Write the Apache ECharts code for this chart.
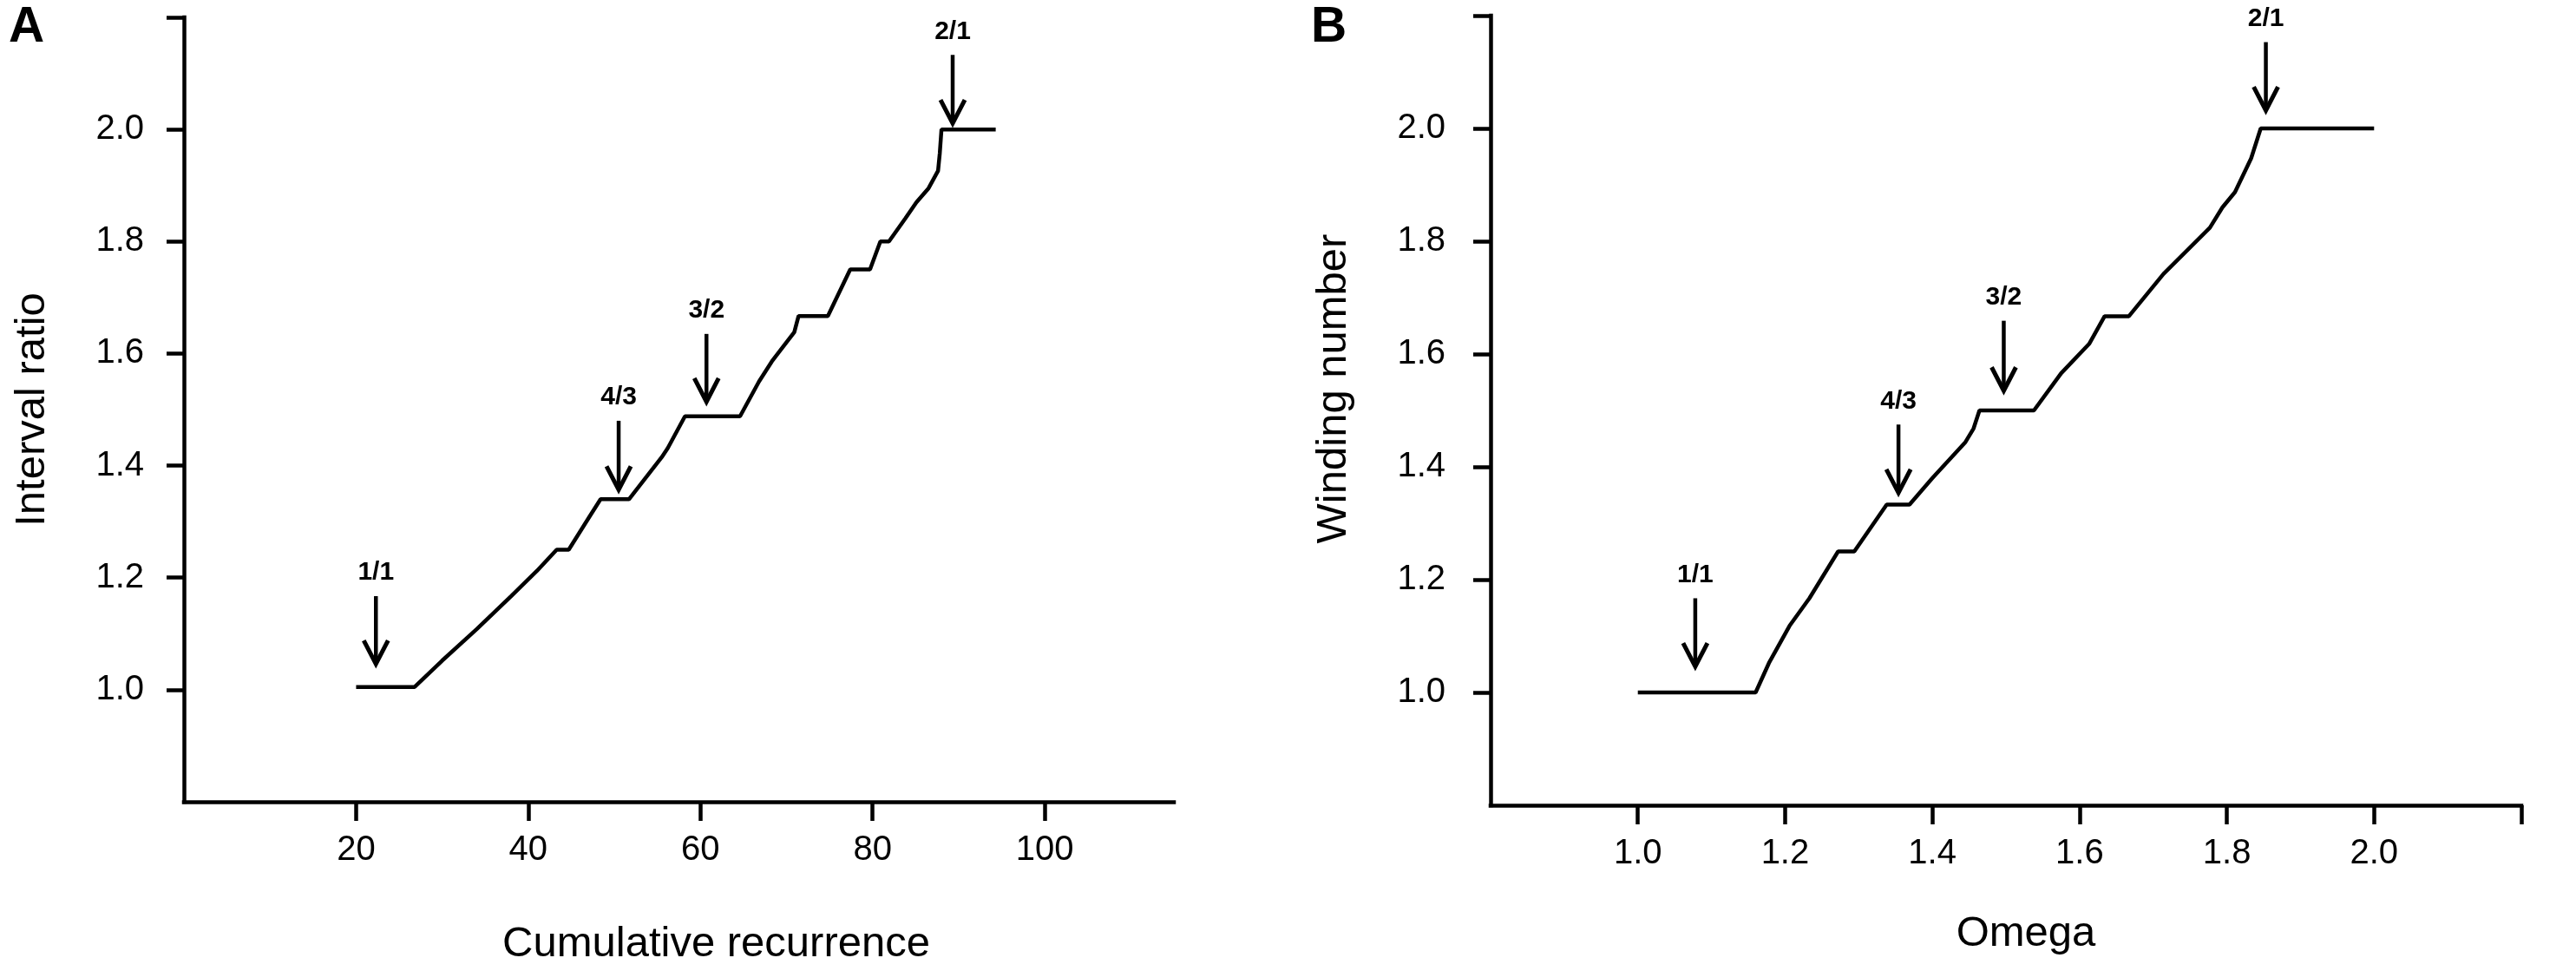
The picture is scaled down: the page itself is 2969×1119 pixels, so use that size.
<!DOCTYPE html>
<html>
<head>
<meta charset="utf-8">
<script src="https://cdn.jsdelivr.net/npm/echarts@6/dist/echarts.min.js"></script>
<style>
html,body{margin:0;padding:0;background:#fff;}
#chart{width:2969px;height:1119px;}
</style>
</head>
<body>
<div id="chart"></div>
<script>
// Panel A: interval ratio vs cumulative recurrence
const aX = [20, 26.8, 30, 34, 38, 41, 43.3, 44.7, 47.2, 48.4, 51.7, 55.5, 56.2, 58.2, 64.6, 66.8, 68.3, 70.1, 70.9, 71.4, 74.8, 77.4, 79.7, 80.9, 81.9, 83.8, 85.1, 86.5, 87.6, 87.8, 88.0, 94.3];
const aY = [1.005, 1.005, 1.052, 1.108, 1.167, 1.212, 1.25, 1.25, 1.311, 1.34, 1.34, 1.415, 1.431, 1.488, 1.488, 1.55, 1.586, 1.622, 1.638, 1.667, 1.667, 1.75, 1.75, 1.8, 1.8, 1.841, 1.87, 1.895, 1.926, 1.957, 2.0, 2.0];
// Panel B: winding number vs omega
const bX = [1.0, 1.16, 1.178, 1.206, 1.233, 1.272, 1.294, 1.338, 1.369, 1.40, 1.445, 1.456, 1.464, 1.538, 1.575, 1.613, 1.634, 1.667, 1.714, 1.777, 1.794, 1.811, 1.833, 1.846, 2.0];
const bY = [1.0, 1.0, 1.052, 1.118, 1.167, 1.25, 1.25, 1.333, 1.333, 1.38, 1.444, 1.468, 1.5, 1.5, 1.566, 1.618, 1.667, 1.667, 1.742, 1.824, 1.86, 1.887, 1.947, 2.0, 2.0];
// Arrows (annotations)
const arrowLabels = ['1/1', '4/3', '3/2', '2/1'];
const aArrowX = [22.3, 50.5, 60.7, 89.3];
const aArrowTop = [1.167, 1.48, 1.635, 2.133];
const aArrowTip = [1.046, 1.357, 1.514, 2.011];
const bArrowX = [1.078, 1.354, 1.497, 1.853];
const bArrowTop = [1.167, 1.475, 1.659, 2.153];
const bArrowTip = [1.046, 1.354, 1.535, 2.032];
// Tick values
const aXTicks = [20, 40, 60, 80, 100];
const bXTicks = [1.0, 1.2, 1.4, 1.6, 1.8, 2.0, 2.2];
const bXLabels = [1.0, 1.2, 1.4, 1.6, 1.8, 2.0];
const yTicks = [1.0, 1.2, 1.4, 1.6, 1.8, 2.0, 2.2];
const yLabels = [1.0, 1.2, 1.4, 1.6, 1.8, 2.0];

const FONT = 'Liberation Sans, Arial, sans-serif';
const lineSt = {color: '#000', width: 4.5, cap: 'square'};

function xAxisCfg(grid, min, max, ticks, labels, fmt, name, gap, shift) {
  return {
    type: 'value', gridIndex: grid, min: min, max: max,
    axisLine: {show: true, onZero: false, lineStyle: lineSt},
    axisTick: {show: true, length: 22, customValues: ticks, lineStyle: {color: '#000', width: 4.5}},
    axisLabel: {customValues: labels, formatter: fmt, fontSize: 40, color: '#000', margin: 36, fontFamily: FONT},
    splitLine: {show: false},
    name: name, nameLocation: 'middle', nameGap: gap,
    nameTextStyle: {fontSize: 49, color: '#000', fontFamily: FONT, padding: [0, 0, 0, shift]}
  };
}
function yAxisCfg(grid, name, gap, margin, shift) {
  return {
    type: 'value', gridIndex: grid, min: 0.8, max: 2.2,
    axisLine: {show: true, onZero: false, lineStyle: lineSt},
    axisTick: {show: true, length: 20, customValues: yTicks, lineStyle: {color: '#000', width: 4.5}},
    axisLabel: {customValues: yLabels, formatter: v => v.toFixed(1), fontSize: 40, color: '#000', margin: margin, fontFamily: FONT},
    splitLine: {show: false},
    name: name, nameLocation: 'middle', nameGap: gap,
    nameTextStyle: {fontSize: 49, color: '#000', fontFamily: FONT, padding: [0, 0, 0, shift]}
  };
}
function arrowSeries(idx, xs, tops, tips) {
  return {
    type: 'custom', xAxisIndex: idx, yAxisIndex: idx, silent: true,
    data: xs.map((x, i) => [x, tops[i], tips[i]]),
    renderItem: function (params, api) {
      const x = api.value(0);
      const pT = api.coord([x, api.value(1)]);
      const pB = api.coord([x, api.value(2)]);
      return {
        type: 'group',
        children: [
          {type: 'line', shape: {x1: pT[0], y1: pT[1], x2: pB[0], y2: pB[1] - 3},
           style: {stroke: '#000', lineWidth: 4.5}},
          {type: 'polyline', shape: {points: [[pB[0] - 14, pB[1] - 27], [pB[0], pB[1]], [pB[0] + 14, pB[1] - 27]]},
           style: {stroke: '#000', fill: null, lineWidth: 5, lineJoin: 'miter'}},
          {type: 'text', x: pT[0], y: pT[1] - 27,
           style: {text: arrowLabels[params.dataIndex], fill: '#000', font: 'bold 30px ' + FONT, align: 'center', verticalAlign: 'middle'}}
        ]
      };
    }
  };
}

const chart = echarts.init(document.getElementById('chart'), null, {renderer: 'canvas'});
chart.setOption({
  backgroundColor: '#fff',
  animation: false,
  grid: [
    {left: 212, top: 20, width: 1141, height: 904},
    {left: 1718, top: 18, width: 1188, height: 910}
  ],
  xAxis: [
    xAxisCfg(0, 0, 115, aXTicks, aXTicks, v => String(v), 'Cumulative recurrence', 140, 86),
    xAxisCfg(1, 0.8, 2.2, bXTicks, bXLabels, v => v.toFixed(1), 'Omega', 124, 46)
  ],
  yAxis: [
    yAxisCfg(0, 'Interval ratio', 150, 46, 0),
    yAxisCfg(1, 'Winding number', 156, 52, 50)
  ],
  graphic: [
    {type: 'text', left: 10, top: 4, style: {text: 'A', font: 'bold 57px ' + FONT, fill: '#000'}},
    {type: 'text', left: 1511, top: 4, style: {text: 'B', font: 'bold 57px ' + FONT, fill: '#000'}}
  ],
  series: [
    {type: 'line', xAxisIndex: 0, yAxisIndex: 0, showSymbol: false, silent: true,
     data: aX.map((x, i) => [x, aY[i]]), lineStyle: {color: '#000', width: 4.5}},
    {type: 'line', xAxisIndex: 1, yAxisIndex: 1, showSymbol: false, silent: true,
     data: bX.map((x, i) => [x, bY[i]]), lineStyle: {color: '#000', width: 4.5}},
    arrowSeries(0, aArrowX, aArrowTop, aArrowTip),
    arrowSeries(1, bArrowX, bArrowTop, bArrowTip)
  ]
});
</script>
</body>
</html>
